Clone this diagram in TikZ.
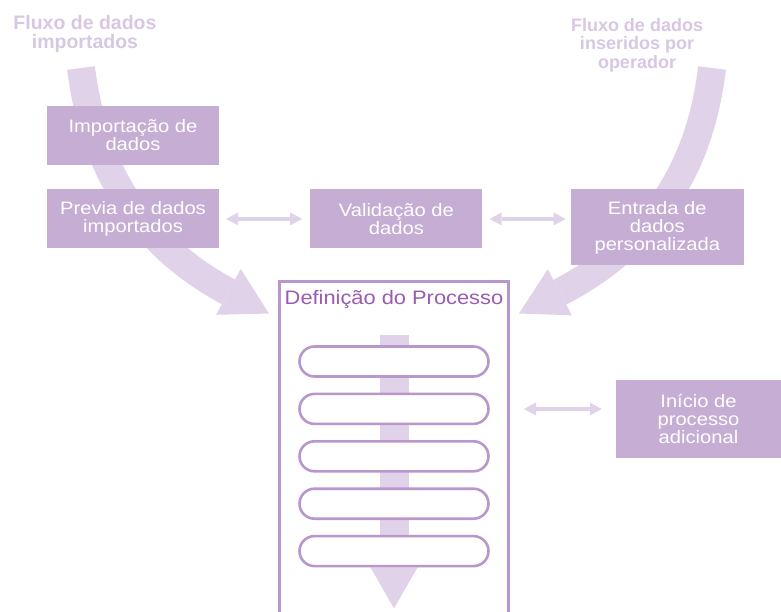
\documentclass[tikz,border=0pt]{standalone}
\usepackage{fontspec}
\setmainfont{Liberation Sans}
\newfontfamily\boxfont[FakeStretch=1.12]{Liberation Sans}
\usetikzlibrary{positioning,arrows.meta,calc,backgrounds}
\definecolor{boxfill}{HTML}{C5ADD3}
\definecolor{flowfill}{HTML}{E0D3E9}
\definecolor{framecol}{HTML}{B996CB}
\definecolor{titlecol}{HTML}{9A5BB0}
\definecolor{headcol}{HTML}{D8C7E3}
\begin{document}
\begin{tikzpicture}[x=1pt,y=-1pt,
	box/.style={fill=boxfill,text=white,inner sep=0pt,align=center,minimum width=172pt,minimum height=59pt,font=\boxfont\fontsize{18}{18}\selectfont},
	heading/.style={text=headcol,inner sep=0pt,align=center,font=\bfseries\fontsize{19.5}{19}\selectfont},
	lane/.style={draw=framecol,line width=2.6pt,fill=white,rounded corners=15pt,minimum width=189pt,minimum height=30pt,inner sep=0pt},
	flow/.style={draw=flowfill,line width=28pt},
	duplex/.style={draw=flowfill,line width=4pt,<->,>={Triangle[length=12pt,width=13pt,line width=0pt]}}]
	\useasboundingbox (0,0) rectangle (781,612);
	\clip (0,0) rectangle (781,612);
	% headings
	\node[heading] (himp) at (85,34) {Fluxo de dados\\importados};
	\node[heading,font=\bfseries\fontsize{18}{18.5}\selectfont] (hop) at (637,45) {Fluxo de dados\\inseridos por\\operador};
	% boxes
	\node[box] (imp) at (133,135.5) {Importação de\\dados};
	\node[box,below=24pt of imp] (prev) {Previa de dados\\importados};
	\node[box,right=91pt of prev] (valid) {Validação de\\dados};
	\node[box,minimum width=173pt,minimum height=76pt,anchor=north west] (entr) at ([xshift=88pt]valid.north east) {Entrada de\\dados\\personalizada};
	\node[box,minimum width=165pt,minimum height=78pt] (ini) at (698.5,419) {Início de\\processo\\adicional};
	% process frame
	\node[draw=framecol,line width=3pt,minimum width=229pt,minimum height=400pt,anchor=north] (proc) at (394,279.5) {};
	\node[text=titlecol,inner sep=0pt,font=\boxfont\fontsize{19.5}{20}\selectfont] (ptitle) at ($(proc.north)+(0,20)$) {Definição do Processo};
	\foreach \i in {1,...,5}
		\node[lane] (lane\i) at (394,{361.5+47.4*(\i-1)}) {};
	% flows
	\coordinate (impin) at (81,68);
	\coordinate (opin) at (712,68);
	\coordinate (impend) at ($(proc.north west)+(-9,34)$);
	\coordinate (opend) at ($(proc.north east)+(9,34)$);
	\begin{scope}[on background layer]
		\draw[flow,-{Triangle[length=46pt,width=52pt,line width=0pt]}] (impin) .. controls (95,180) and (150,250) .. (impend);
		\draw[flow,-{Triangle[length=46pt,width=52pt,line width=0pt]}] (opin) .. controls (699,180) and (641,250) .. (opend);
		\draw[flow,line width=29pt,-{Triangle[length=41pt,width=47pt,line width=0pt]}] ($(lane1.north)+(0,-10)$) -- ($(lane5.south)+(0,41)$);
	\end{scope}
	\draw[duplex] ([xshift=7pt]prev.east) -- ([xshift=-8pt]valid.west);
	\draw[duplex] ([xshift=7pt]valid.east) -- ($(entr.west |- valid.east)+(-5,0)$);
	\draw[duplex] ($(proc.east |- ini.west)+(14,-10)$) -- ($(ini.west)+(-14,-10)$);
\end{tikzpicture}
\end{document}
